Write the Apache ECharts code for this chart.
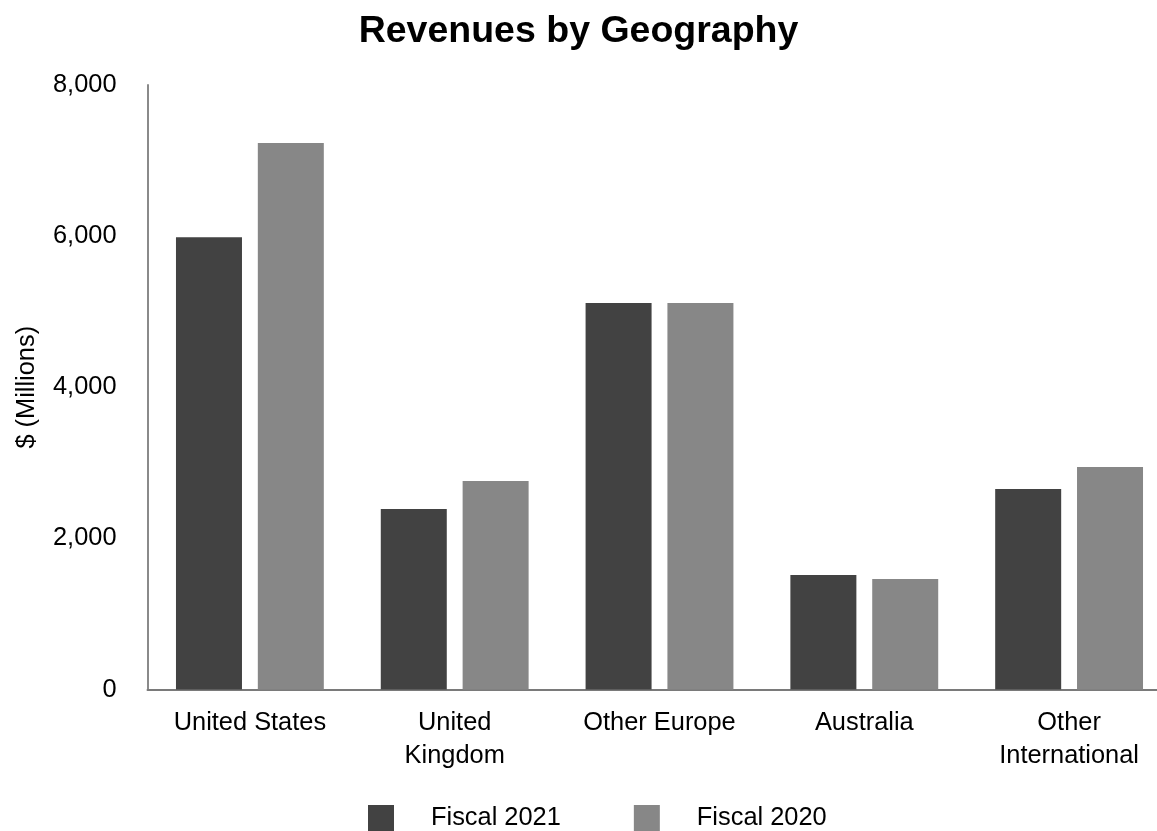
<!DOCTYPE html>
<html>
<head>
<meta charset="utf-8">
<script src="https://cdn.jsdelivr.net/npm/echarts@6/dist/echarts.min.js"></script>
<style>html,body{margin:0;padding:0;background:#fff;}#c{width:1157px;height:831px;}</style>
</head>
<body>
<div id="c"></div>
<script>
const categories = ['United States', 'United\nKingdom', 'Other Europe', 'Australia', 'Other\nInternational'];
const fiscal2021 = [5984, 2389, 5115, 1515, 2653];
const fiscal2020 = [7232, 2759, 5115, 1462, 2945];
const yTicks = { min: 0, max: 8000, interval: 2000 };

const font = 'Liberation Sans, Arial, Helvetica, sans-serif';
const chart = echarts.init(document.getElementById('c'));
chart.setOption({
  animation: false,
  backgroundColor: '#ffffff',
  title: {
    text: 'Revenues by Geography',
    left: 'center',
    top: 13,
    padding: 0,
    textStyle: { fontFamily: font, fontSize: 37.5, fontWeight: 'bold', color: '#000' }
  },
  legend: {
    left: 368,
    top: 805,
    padding: 0,
    itemWidth: 26,
    itemHeight: 26,
    itemGap: 73,
    icon: 'rect',
    textStyle: { fontFamily: font, fontSize: 25.4, color: '#000', padding: [5, 0, 0, 32] },
    data: ['Fiscal 2021', 'Fiscal 2020']
  },
  grid: { left: 147.5, top: 85, width: 1024, bottom: 141.5, containLabel: false, outerBoundsMode: 'none' },
  xAxis: {
    type: 'category',
    data: categories,
    axisLine: { lineStyle: { color: '#7a7a7a', width: 2 } },
    axisTick: { show: false },
    axisLabel: { fontFamily: font, fontSize: 25.4, color: '#000', margin: 17, lineHeight: 33, interval: 0 }
  },
  yAxis: {
    type: 'value',
    min: yTicks.min,
    max: yTicks.max,
    interval: yTicks.interval,
    name: '$ (Millions)',
    nameLocation: 'middle',
    nameGap: 108,
    nameTextStyle: { fontFamily: font, fontSize: 25.4, color: '#000' },
    axisLine: { show: true, lineStyle: { color: '#8a8a8a', width: 2 } },
    axisTick: { show: false },
    splitLine: { show: false },
    axisLabel: {
      fontFamily: font, fontSize: 25.4, color: '#000', margin: 31, padding: [5, 0, 0, 0],
      formatter: v => v.toLocaleString('en-US')
    }
  },
  series: [
    { name: 'Fiscal 2021', type: 'bar', data: fiscal2021, barWidth: 66, barGap: '24%', itemStyle: { color: '#424242' } },
    { name: 'Fiscal 2020', type: 'bar', data: fiscal2020, barWidth: 66, barGap: '24%', itemStyle: { color: '#878787' } }
  ]
});
</script>
</body>
</html>
